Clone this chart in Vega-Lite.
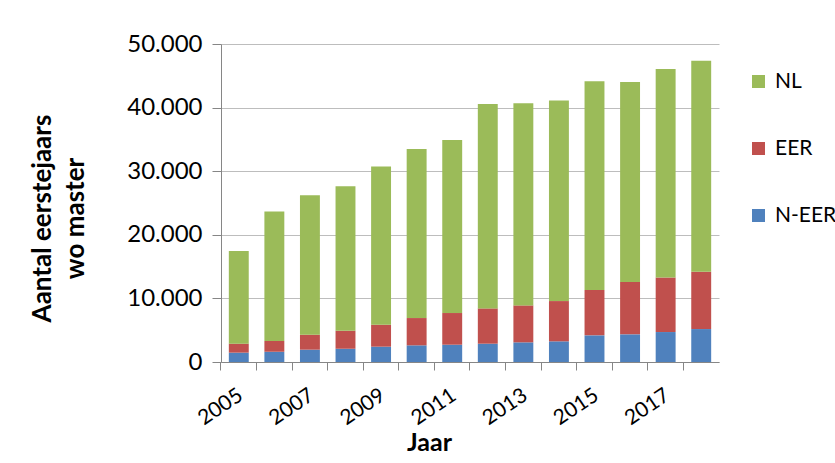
{
  "$schema": "https://vega.github.io/schema/vega-lite/v6.json",
  "width": 498,
  "height": 318,
  "autosize": {"type": "none"},
  "padding": {"left": 221, "top": 44, "right": 116, "bottom": 101},
  "background": "white",
  "config": {"font": "Lato", "view": {"stroke": null}},
  "data": {
    "values": [
      {"Jaar": 2005, "Herkomst": "N-EER", "Aantal": 1470},
      {"Jaar": 2005, "Herkomst": "EER", "Aantal": 1410},
      {"Jaar": 2005, "Herkomst": "NL", "Aantal": 14560},
      {"Jaar": 2006, "Herkomst": "N-EER", "Aantal": 1620},
      {"Jaar": 2006, "Herkomst": "EER", "Aantal": 1680},
      {"Jaar": 2006, "Herkomst": "NL", "Aantal": 20370},
      {"Jaar": 2007, "Herkomst": "N-EER", "Aantal": 1940},
      {"Jaar": 2007, "Herkomst": "EER", "Aantal": 2350},
      {"Jaar": 2007, "Herkomst": "NL", "Aantal": 21940},
      {"Jaar": 2008, "Herkomst": "N-EER", "Aantal": 2090},
      {"Jaar": 2008, "Herkomst": "EER", "Aantal": 2830},
      {"Jaar": 2008, "Herkomst": "NL", "Aantal": 22730},
      {"Jaar": 2009, "Herkomst": "N-EER", "Aantal": 2410},
      {"Jaar": 2009, "Herkomst": "EER", "Aantal": 3450},
      {"Jaar": 2009, "Herkomst": "NL", "Aantal": 24870},
      {"Jaar": 2010, "Herkomst": "N-EER", "Aantal": 2620},
      {"Jaar": 2010, "Herkomst": "EER", "Aantal": 4290},
      {"Jaar": 2010, "Herkomst": "NL", "Aantal": 26600},
      {"Jaar": 2011, "Herkomst": "N-EER", "Aantal": 2720},
      {"Jaar": 2011, "Herkomst": "EER", "Aantal": 4980},
      {"Jaar": 2011, "Herkomst": "NL", "Aantal": 27220},
      {"Jaar": 2012, "Herkomst": "N-EER", "Aantal": 2880},
      {"Jaar": 2012, "Herkomst": "EER", "Aantal": 5550},
      {"Jaar": 2012, "Herkomst": "NL", "Aantal": 32150},
      {"Jaar": 2013, "Herkomst": "N-EER", "Aantal": 3090},
      {"Jaar": 2013, "Herkomst": "EER", "Aantal": 5810},
      {"Jaar": 2013, "Herkomst": "NL", "Aantal": 31780},
      {"Jaar": 2014, "Herkomst": "N-EER", "Aantal": 3250},
      {"Jaar": 2014, "Herkomst": "EER", "Aantal": 6330},
      {"Jaar": 2014, "Herkomst": "NL", "Aantal": 31520},
      {"Jaar": 2015, "Herkomst": "N-EER", "Aantal": 4190},
      {"Jaar": 2015, "Herkomst": "EER", "Aantal": 7120},
      {"Jaar": 2015, "Herkomst": "NL", "Aantal": 32830},
      {"Jaar": 2016, "Herkomst": "N-EER", "Aantal": 4350},
      {"Jaar": 2016, "Herkomst": "EER", "Aantal": 8220},
      {"Jaar": 2016, "Herkomst": "NL", "Aantal": 31470},
      {"Jaar": 2017, "Herkomst": "N-EER", "Aantal": 4710},
      {"Jaar": 2017, "Herkomst": "EER", "Aantal": 8590},
      {"Jaar": 2017, "Herkomst": "NL", "Aantal": 32780},
      {"Jaar": 2018, "Herkomst": "N-EER", "Aantal": 5180},
      {"Jaar": 2018, "Herkomst": "EER", "Aantal": 9010},
      {"Jaar": 2018, "Herkomst": "NL", "Aantal": 33190}
    ]
  },
  "transform": [
    {"calculate": "indexof(['N-EER','EER','NL'], datum.Herkomst)", "as": "volgorde"}
  ],
  "mark": {"type": "bar"},
  "encoding": {
    "x": {
      "field": "Jaar",
      "type": "ordinal",
      "scale": {"paddingInner": 0.44, "paddingOuter": 0.22},
      "axis": {
        "title": "Jaar",
        "titleFont": "Lato",
        "titleFontSize": 25,
        "titleFontWeight": "bold",
        "titleColor": "#000000",
        "titleX": 208,
        "titleY": 80,
        "titleBaseline": "middle",
        "titleAnchor": "start",
        "titleAlign": "center",
        "bandPosition": -0.393,
        "labelOffset": -4,
        "labelAngle": -34,
        "labelAlign": "right",
        "labelBaseline": "top",
        "labelFontSize": 21,
        "labelColor": "#000000",
        "labelPadding": 14,
        "labelOverlap": false,
        "labelExpr": "datum.value % 2 == 1 ? datum.label : ''",
        "domainColor": "#868686",
        "domainWidth": 1,
        "tickColor": "#868686",
        "tickSize": 8,
        "grid": false
      }
    },
    "y": {
      "field": "Aantal",
      "type": "quantitative",
      "aggregate": "sum",
      "stack": "zero",
      "scale": {"domain": [0, 50000], "nice": false},
      "axis": {
        "title": ["Aantal eerstejaars", "wo master"],
        "titleFont": "Lato",
        "titleFontSize": 26,
        "titleFontWeight": "bold",
        "titleColor": "#000000",
        "titleLineHeight": 33,
        "titlePadding": 38,
        "titleY": 174,
        "values": [0, 10000, 20000, 30000, 40000, 50000],
        "labelExpr": "replace(format(datum.value, ','), ',', '.')",
        "labelFontSize": 24,
        "labelColor": "#000000",
        "labelPadding": 10,
        "tickSize": 9,
        "tickColor": "#868686",
        "domainColor": "#868686",
        "gridColor": "#bdbdbd",
        "gridWidth": 1
      }
    },
    "color": {
      "field": "Herkomst",
      "type": "nominal",
      "scale": {"domain": ["NL", "EER", "N-EER"], "range": ["#9BBB59", "#C0504D", "#4F81BD"]},
      "legend": {
        "title": null,
        "orient": "none",
        "legendX": 527,
        "legendY": 27,
        "symbolType": "square",
        "symbolSize": 169,
        "symbolStrokeWidth": 0,
        "symbolOpacity": 1,
        "labelFontSize": 21,
        "labelColor": "#000000",
        "labelOffset": 6,
        "rowPadding": 45
      }
    },
    "order": {"field": "volgorde", "type": "quantitative"}
  }
}
